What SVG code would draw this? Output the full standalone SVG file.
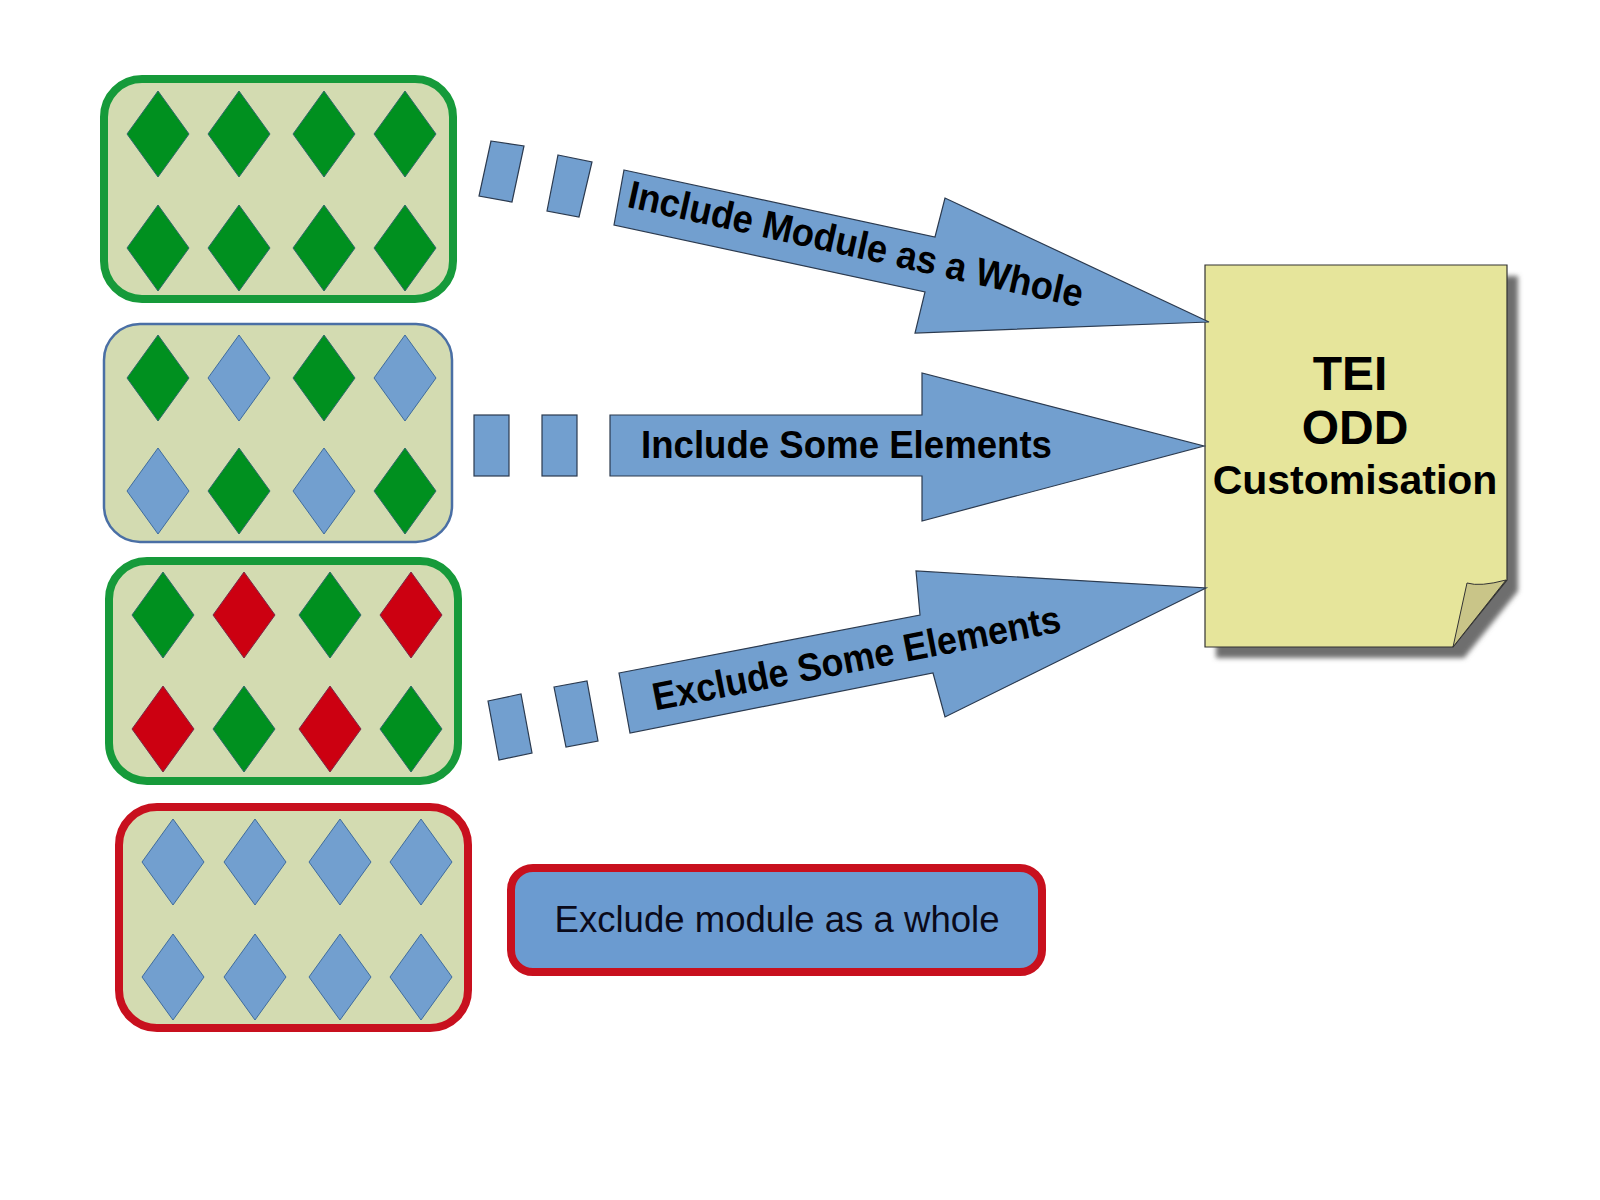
<svg xmlns="http://www.w3.org/2000/svg" xmlns:xlink="http://www.w3.org/1999/xlink" width="1600" height="1200" viewBox="0 0 1600 1200">
<style>
.box{fill:#d3dbb1}
.bg{stroke:#169a3a;stroke-width:8}
.bb{stroke:#4a6fa5;stroke-width:2.5}
.br{stroke:#c8101e;stroke-width:8}
.g{fill:#00901f;stroke:#2f6a6a;stroke-width:1}
.b{fill:#729fcf;stroke:#3f6c9e;stroke-width:1}
.r{fill:#cc0011;stroke:#7a2a4a;stroke-width:1}
.arr{fill:#729fcf;stroke:#2b3a4f;stroke-width:1.2;stroke-linejoin:miter}
.lbl{font-family:"Liberation Sans",Arial,sans-serif;font-weight:bold;font-size:39px;fill:#000}
.doc{font-family:"Liberation Sans",Arial,sans-serif;font-weight:bold;fill:#000;text-anchor:middle}
</style>
<defs>
<path id="dm" d="M0,-43 L31,0 L0,43 L-31,0 Z"/>
<filter id="sh" x="-10%" y="-10%" width="130%" height="130%">
<feGaussianBlur stdDeviation="2.5"/>
</filter>
</defs>
<rect width="1600" height="1200" fill="#ffffff"/>

<g id="module-include-whole">
<rect class="box bg" x="104" y="79" width="349" height="220" rx="38"/>
<use href="#dm" class="g" x="158" y="134"/><use href="#dm" class="g" x="239" y="134"/><use href="#dm" class="g" x="324" y="134"/><use href="#dm" class="g" x="405" y="134"/>
<use href="#dm" class="g" x="158" y="248"/><use href="#dm" class="g" x="239" y="248"/><use href="#dm" class="g" x="324" y="248"/><use href="#dm" class="g" x="405" y="248"/>
</g>

<g id="module-include-some">
<rect class="box bb" x="104" y="324" width="348" height="218" rx="36"/>
<use href="#dm" class="g" x="158" y="378"/><use href="#dm" class="b" x="239" y="378"/><use href="#dm" class="g" x="324" y="378"/><use href="#dm" class="b" x="405" y="378"/>
<use href="#dm" class="b" x="158" y="491"/><use href="#dm" class="g" x="239" y="491"/><use href="#dm" class="b" x="324" y="491"/><use href="#dm" class="g" x="405" y="491"/>
</g>

<g id="module-exclude-some">
<rect class="box bg" x="109" y="561" width="349" height="220" rx="38"/>
<use href="#dm" class="g" x="163" y="615"/><use href="#dm" class="r" x="244" y="615"/><use href="#dm" class="g" x="330" y="615"/><use href="#dm" class="r" x="411" y="615"/>
<use href="#dm" class="r" x="163" y="729"/><use href="#dm" class="g" x="244" y="729"/><use href="#dm" class="r" x="330" y="729"/><use href="#dm" class="g" x="411" y="729"/>
</g>

<g id="module-exclude-whole">
<rect class="box br" x="119" y="807" width="349" height="221" rx="38"/>
<use href="#dm" class="b" x="173" y="862"/><use href="#dm" class="b" x="255" y="862"/><use href="#dm" class="b" x="340" y="862"/><use href="#dm" class="b" x="421" y="862"/>
<use href="#dm" class="b" x="173" y="977"/><use href="#dm" class="b" x="255" y="977"/><use href="#dm" class="b" x="340" y="977"/><use href="#dm" class="b" x="421" y="977"/>
</g>

<g id="exclude-label">
<rect x="511" y="868" width="531" height="104" rx="22" fill="#6b9bd0" stroke="#c8101e" stroke-width="8"/>
<text x="777" y="932" font-family="'Liberation Sans',Arial,sans-serif" font-size="36" text-anchor="middle" fill="#0a0a1a" textLength="445" lengthAdjust="spacingAndGlyphs">Exclude module as a whole</text>
</g>

<g id="tei-odd">
<path d="M1216,276 L1518,276 L1518,591 L1464,658 L1216,658 Z" fill="#6e6e6e" filter="url(#sh)"/>
<path d="M1205,265 L1507,265 L1507,580 L1453,647 L1205,647 Z" fill="#e6e59b" stroke="#333333" stroke-width="1.2"/>
<path d="M1453,647 L1467,583 Q1480,587 1506,580 Z" fill="#c9c588" stroke="#333333" stroke-width="1"/>
<text class="doc" x="1350" y="390" font-size="48">TEI</text>
<text class="doc" x="1355" y="444" font-size="48">ODD</text>
<text class="doc" x="1355" y="494" font-size="41">Customisation</text>
</g>

<g id="connectors">
<g id="arrow-include-whole">
<polygon class="arr" points="491,141 524,146 512,202 479,196"/>
<polygon class="arr" points="558,155 592,162 579,217 547,211"/>
<polygon class="arr" points="624,170 935,237 945,198 1209,322 915,333 925,292 614,225"/>
<text class="lbl" transform="translate(853,257) rotate(12.5)" text-anchor="middle" textLength="465" lengthAdjust="spacingAndGlyphs">Include Module as a Whole</text>
</g>
<g id="arrow-include-some">
<rect class="arr" x="474" y="415" width="35" height="61"/>
<rect class="arr" x="542" y="415" width="35" height="61"/>
<polygon class="arr" points="610,415 922,415 922,373 1204,446 922,521 922,476 610,476"/>
<text class="lbl" x="641" y="458" textLength="411" lengthAdjust="spacingAndGlyphs">Include Some Elements</text>
</g>
<g id="arrow-exclude-some">
<polygon class="arr" points="488,701 521,694 532,753 499,760"/>
<polygon class="arr" points="554,687 587,681 598,741 566,747"/>
<polygon class="arr" points="619,673 920,615 916,571 1206,588 945,717 933,673 630,733"/>
<text class="lbl" transform="translate(859,671) rotate(-11)" text-anchor="middle" textLength="415" lengthAdjust="spacingAndGlyphs">Exclude Some Elements</text>
</g>
</g>
</svg>
